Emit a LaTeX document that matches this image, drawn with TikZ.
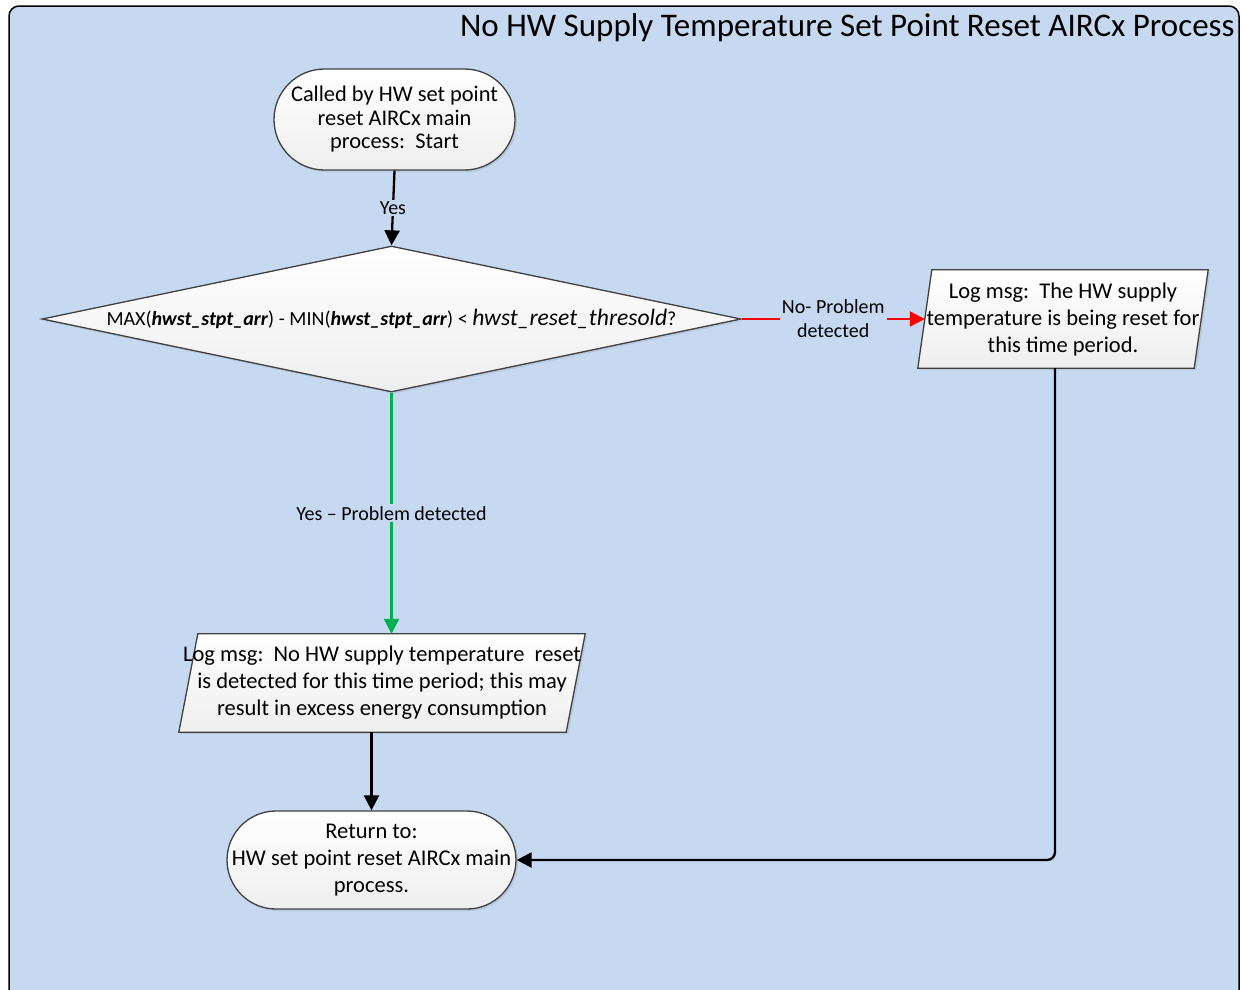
\documentclass[tikz,border=0pt]{standalone}
\usepackage{fontspec}
\setmainfont{Carlito}
\usetikzlibrary{shapes.geometric,shapes.misc,arrows.meta,calc,shadows}
\pgfdeclarelayer{frame}
\pgfdeclarelayer{boxes}
\pgfsetlayers{frame,boxes,main}

\definecolor{panel}{HTML}{C6D9F1}
\definecolor{edgegray}{HTML}{404040}
\definecolor{flowgreen}{HTML}{00B050}

% a line of text that may spill over its box symmetrically
\newcommand{\spill}[1]{\makebox[180pt][c]{#1}}

\tikzset{
  box/.style={draw=edgegray, line width=1.3pt, top color=white, bottom color=gray!13,
    drop shadow={opacity=0.18, shadow xshift=2pt, shadow yshift=-2pt}},
  terminal/.style={box, rounded rectangle, align=center, inner sep=0pt},
  decision/.style={box, diamond, inner sep=0pt, aspect=4.79},
  iotext/.style={rectangle, align=center, inner sep=0pt},
  link/.style={line width=2.3pt, -{Triangle[length=15pt,width=15pt]}},
  lbl/.style={fill=panel, text=black, inner sep=2pt, align=center,
    font=\fontsize{20}{24}\selectfont},
  boxfont/.style={font=\fontsize{22.5}{27}\selectfont},
}

\begin{document}
\begin{tikzpicture}[x=1pt, y=-1pt]
\useasboundingbox (0,0) rectangle (1243,989);

% panel
\begin{pgfonlayer}{frame}
  \draw[fill=panel, line width=1.5pt, rounded corners=10pt] (9,6) rectangle (1239,1010);
\end{pgfonlayer}

\node[anchor=east, font=\fontsize{33}{38}\selectfont] (title) at (1238,28)
  {No HW Supply Temperature Set Point Reset AIRCx Process};

% flow nodes
\node[terminal, minimum width=241pt, minimum height=101pt,
      font=\fontsize{22.4}{23.5}\selectfont] (start) at (394.5,119.5)
  {Called by HW set point\\reset AIRCx main\\process:~~Start};

\node[decision, minimum width=699pt, minimum height=146pt,
      font=\fontsize{20}{24}\selectfont] (dec) at (391.5,319)
  {MAX(\textbf{\textit{hwst\_stpt\_arr}}) - MIN(\textbf{\textit{hwst\_stpt\_arr}}) <
   {\fontsize{23.6}{26}\selectfont\textit{hwst\_reset\_thresold}}?};

\node[iotext, boxfont, minimum width=290pt, minimum height=98pt] (pr) at (1063,319)
  {Log msg:~~The HW supply\\temperature is being reset for\\this time period.};

\node[iotext, boxfont, minimum width=406pt, minimum height=98pt] (pb) at (382,683)
  {Log msg:~~No HW supply temperature~~reset\\is detected for this time period; this may\\result in excess energy consumption};

\node[terminal, minimum width=289pt, minimum height=98pt,
      font=\fontsize{22.5}{27}\selectfont] (ret) at (371.5,860)
  {\spill{Return to:}\\\spill{HW set point reset AIRCx main}\\\spill{process.}};

% parallelogram outlines behind the text nodes
\begin{pgfonlayer}{boxes}
  \path[box] (pr.south west) -- ($(pr.south east)+(-14,0)$) -- (pr.north east)
    -- ($(pr.north west)+(14,0)$) -- cycle;
  \path[box] (pb.south west) -- ($(pb.south east)+(-19,0)$) -- (pb.north east)
    -- ($(pb.north west)+(19,0)$) -- cycle;
\end{pgfonlayer}

% connectors
\draw[link] (start.south) -- node[lbl] {Yes} (dec.north);
\draw[link, red, line width=2.2pt] (dec.east) -- node[lbl] {No- Problem\\detected}
  ($(pr.west)+(7,0)$);
\draw[link, flowgreen, line width=2.2pt] (dec.south) -- node[lbl] {Yes -- Problem detected}
  (dec.south |- pb.north);
\draw[link] (ret.north |- pb.south) -- (ret.north);
\coordinate (bend) at (1055,860);
\draw[link, rounded corners=8pt] (pr.south -| bend) -- (bend) -- (ret.east);
\end{tikzpicture}
\end{document}
